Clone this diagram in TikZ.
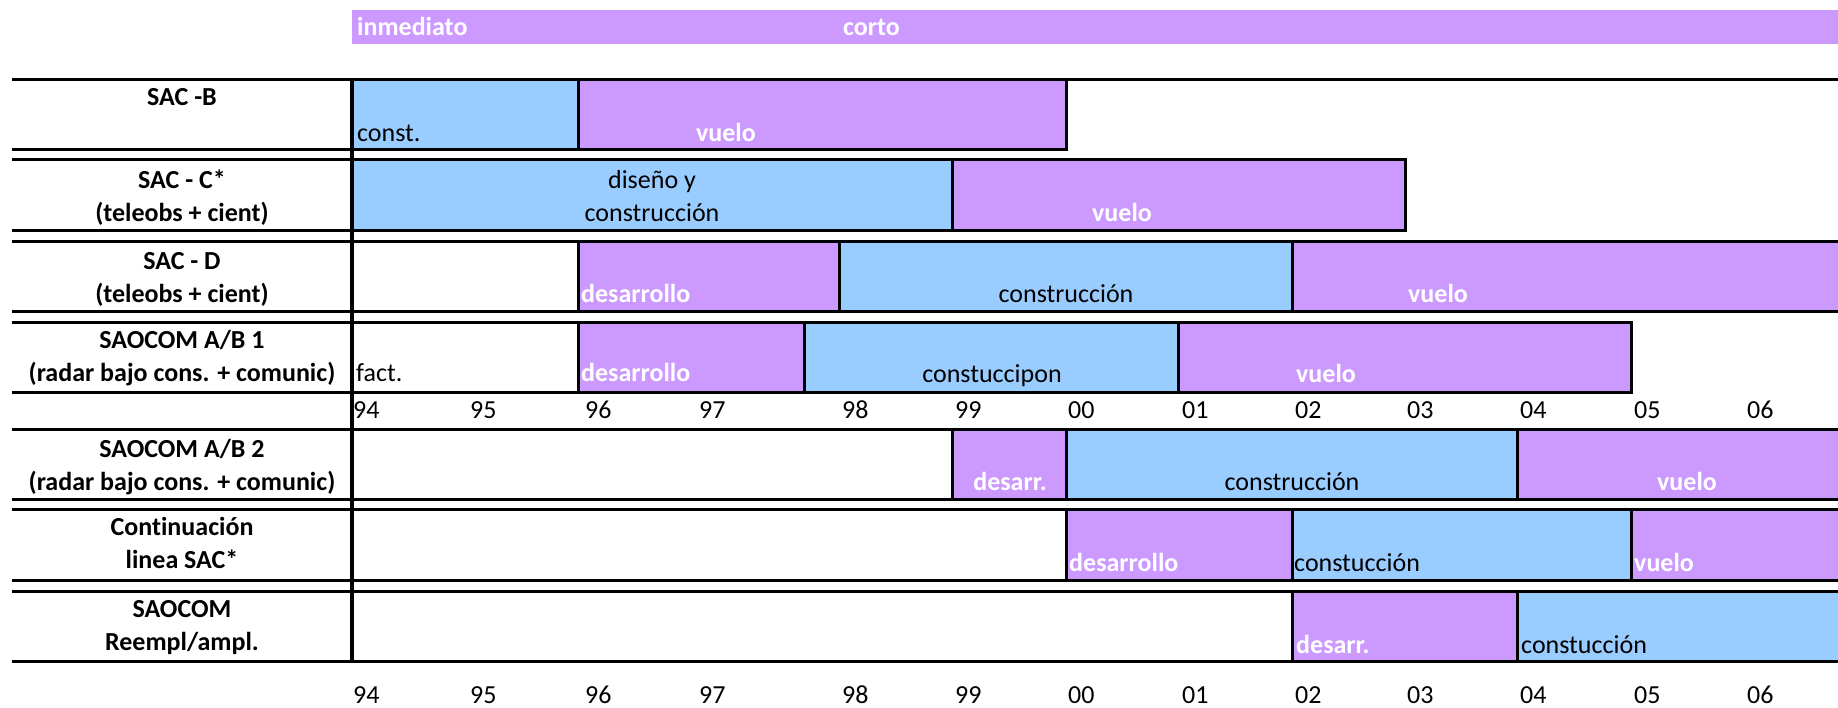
\documentclass[tikz,border=0pt]{standalone}
\usepackage{fontspec}
\setmainfont{Carlito}[Ligatures=CommonOff]
\usepackage{xcolor}
\usepackage{tikz}

\definecolor{phaseblue}{HTML}{99CCFF}
\definecolor{phasepurple}{HTML}{CC99FF}

\begin{document}
\begin{tikzpicture}[x=1pt, y=-1pt]

                \def\lw{3pt}

                % text and phase styles
                \tikzset{
                    rowlabel/.style={font=\fontsize{26}{33}\selectfont\bfseries,
                        align=center, anchor=base, inner sep=0pt},
                    darktext/.style={font=\fontsize{26}{33}\selectfont,
                        align=center, anchor=base, inner sep=0pt},
                    lighttext/.style={font=\fontsize{26}{33}\selectfont\bfseries,
                        text=white, anchor=base, inner sep=0pt},
                    yeartext/.style={font=\fontsize{26}{33}\selectfont,
                        anchor=base west, inner sep=0pt},
                    bluephase/.style={fill=phaseblue, draw=black, line width=\lw},
                    purplephase/.style={fill=phasepurple, draw=black, line width=\lw},
                    rule/.style={line width=\lw}
                }

                \useasboundingbox (0,0) rectangle (1838,707);

                % time scale bar
                \fill[phasepurple] (352,10) rectangle (1838,44);
                \node[lighttext, anchor=base west] (inmediato) at (357,35) {inmediato};
                \node[lighttext, anchor=base west] (corto) at (843,35) {corto};

                % phases, row by row
                \begin{scope}
                    \filldraw[bluephase] (352,79) rectangle (578,149);
                    \filldraw[purplephase] (578,79) rectangle (1066,149);

                    \filldraw[bluephase] (352,159) rectangle (952,230);
                    \filldraw[purplephase] (952,159) rectangle (1405,230);

                    \filldraw[purplephase] (578,241) rectangle (839,311);
                    \filldraw[bluephase] (839,241) rectangle (1292,311);
                    \filldraw[purplephase] (1292,241) rectangle (1850,311);

                    \filldraw[purplephase] (578,322) rectangle (804,392);
                    \filldraw[bluephase] (804,322) rectangle (1178,392);
                    \filldraw[purplephase] (1178,322) rectangle (1631,392);

                    \filldraw[purplephase] (952,429) rectangle (1066,499);
                    \filldraw[bluephase] (1066,429) rectangle (1517,499);
                    \filldraw[purplephase] (1517,429) rectangle (1850,499);

                    \filldraw[purplephase] (1066,509) rectangle (1292,580);
                    \filldraw[bluephase] (1292,509) rectangle (1631,580);
                    \filldraw[purplephase] (1631,509) rectangle (1850,580);

                    \filldraw[purplephase] (1292,591) rectangle (1517,661);
                    \filldraw[bluephase] (1517,591) rectangle (1850,661);
                \end{scope}

                % table rules
                \begin{scope}[rule]
                    \draw (12,79) -- (1838,79);
                    \draw (12,149) -- (1066,149);
                    \draw (12,159) -- (1405,159);
                    \draw (12,230) -- (1405,230);
                    \draw (12,241) -- (1838,241);
                    \draw (12,311) -- (1838,311);
                    \draw (12,322) -- (1631,322);
                    \draw (12,392) -- (1631,392);
                    \draw (12,429) -- (1838,429);
                    \draw (12,499) -- (1838,499);
                    \draw (12,509) -- (1838,509);
                    \draw (12,580) -- (1838,580);
                    \draw (12,591) -- (1838,591);
                    \draw (12,661) -- (1838,661);
                    \draw[line width=3.6pt] (352,79) -- (352,661);
                \end{scope}

                % row labels (anchored on the last line)
                \node[rowlabel] (SACB) at (182,105) {SAC -B};
                \node[rowlabel] (SACC) at (182,221) {SAC - C*\\(teleobs + cient)};
                \node[rowlabel] (SACD) at (182,302) {SAC - D\\(teleobs + cient)};
                \node[rowlabel] (SAO1) at (182,381)
                {SAOCOM A/B 1\\(radar bajo cons. + comunic)};
                \node[rowlabel] (SAO2) at (182,490)
                {SAOCOM A/B 2\\(radar bajo cons. + comunic)};
                \node[rowlabel] (CONT) at (182,568) {Continuación\\linea SAC*};
                \node[rowlabel] (SAOR) at (182,650) {SAOCOM\\Reempl/ampl.};

                % phase labels
                \node[darktext, anchor=base west] (B1) at (357,141) {const.};
                \node[lighttext] (B2) at (726,141) {vuelo};

                \node[darktext] (C1) at (652,221) {diseño y\\construcción};
                \node[lighttext] (C2) at (1122,221) {vuelo};

                \node[lighttext, anchor=base west] (D1) at (581,302) {desarrollo};
                \node[darktext] (D2) at (1066,302) {construcción};
                \node[lighttext] (D3) at (1438,302) {vuelo};

                \node[darktext, anchor=base west] (E0) at (356,381) {fact.};
                \node[lighttext, anchor=base west] (E1) at (581,381) {desarrollo};
                \node[darktext] (E2) at (992,382) {constuccipon};
                \node[lighttext] (E3) at (1326,382) {vuelo};

                \node[lighttext] (F1) at (1010,490) {desarr.};
                \node[darktext] (F2) at (1292,490) {construcción};
                \node[lighttext] (F3) at (1687,490) {vuelo};

                \node[lighttext, anchor=base west] (G1) at (1069,571) {desarrollo};
                \node[darktext, anchor=base west] (G2) at (1294,571) {constucción};
                \node[lighttext, anchor=base west] (G3) at (1634,571) {vuelo};

                \node[lighttext, anchor=base west] (H1) at (1296,653) {desarr.};
                \node[darktext, anchor=base west] (H2) at (1521,653) {constucción};

                % years
                \foreach \yr/\xx in {94/353, 95/470, 96/585, 97/699, 98/842,
                    99/955, 00/1068, 01/1182, 02/1295, 03/1407, 04/1520,
                    05/1634, 06/1747} {
                    \node[yeartext] (midyr\yr) at (\xx,418) {\yr};
                    \node[yeartext] (botyr\yr) at (\xx,703) {\yr};
                }

\end{tikzpicture}
\end{document}
